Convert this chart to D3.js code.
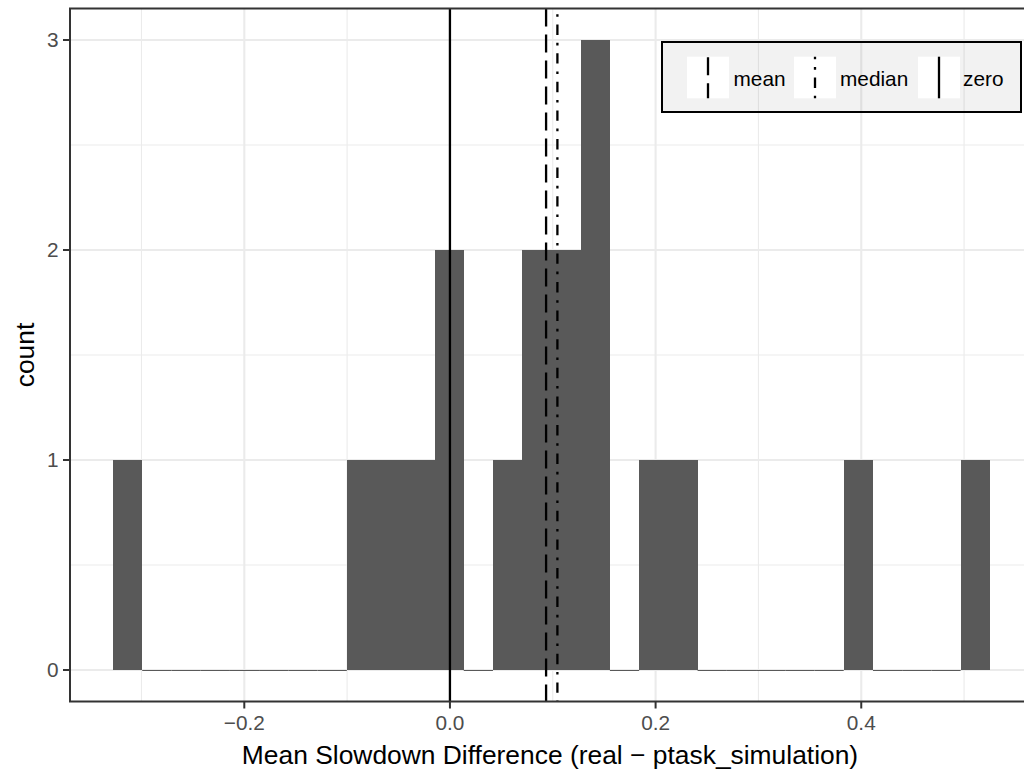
<!DOCTYPE html>
<html>
<head>
<meta charset="utf-8">
<script src="https://cdn.jsdelivr.net/npm/d3@7"></script>
<style>
  html, body { margin: 0; padding: 0; background: #fff; }
  svg { display: block; font-family: "Liberation Sans", Arial, sans-serif; }
</style>
</head>
<body>
<svg id="chart" width="1024" height="769"></svg>
<script>
// ---- data ----
const binStart = -0.3277;          // left edge of first bin
const binWidth = 0.028427;         // histogram bin width
const counts = [1,0,0,0,0,0,0,0,1,1,1,2,0,1,2,2,3,0,1,1,0,0,0,0,0,1,0,0,0,1];
const refLabels = ["mean", "median", "zero"];
const refValues = [0.0935, 0.1045, 0];
const xTicks = [-0.2, 0.0, 0.2, 0.4];
const xMinor = [-0.3, -0.1, 0.1, 0.3, 0.5];
const yTicks = [0, 1, 2, 3];
const yMinor = [0.5, 1.5, 2.5];
const xTitle = "Mean Slowdown Difference (real \u2212 ptask_simulation)";
const yTitle = "count";

const bins = counts.map((c, i) => ({ x0: binStart + i * binWidth, x1: binStart + (i + 1) * binWidth, count: c }));

// ---- layout ----
const panel = { left: 70, right: 1034, top: 8.5, bottom: 701.5 };
const x = d3.scaleLinear().domain([-0.3695, 0.5680]).range([panel.left, panel.right]);
const y = d3.scaleLinear().domain([-0.15, 3.15]).range([panel.bottom, panel.top]);

const svg = d3.select("#chart");
const fmtX = v => (v < 0 ? "\u2212" : "") + Math.abs(v).toFixed(1);

// grid
const g = svg.append("g");
g.selectAll(".xminor").data(xMinor).join("line")
  .attr("x1", d => x(d)).attr("x2", d => x(d)).attr("y1", panel.top).attr("y2", panel.bottom)
  .attr("stroke", "#ebebeb").attr("stroke-width", 1.1);
g.selectAll(".yminor").data(yMinor).join("line")
  .attr("y1", d => y(d)).attr("y2", d => y(d)).attr("x1", panel.left).attr("x2", panel.right)
  .attr("stroke", "#ebebeb").attr("stroke-width", 1.1);
g.selectAll(".xmajor").data(xTicks).join("line")
  .attr("x1", d => x(d)).attr("x2", d => x(d)).attr("y1", panel.top).attr("y2", panel.bottom)
  .attr("stroke", "#ebebeb").attr("stroke-width", 2.1);
g.selectAll(".ymajor").data(yTicks).join("line")
  .attr("y1", d => y(d)).attr("y2", d => y(d)).attr("x1", panel.left).attr("x2", panel.right)
  .attr("stroke", "#ebebeb").attr("stroke-width", 2.1);

// bars
svg.append("g").selectAll("rect").data(bins.filter(b => b.count > 0)).join("rect")
  .attr("x", d => x(d.x0)).attr("width", d => x(d.x1) - x(d.x0))
  .attr("y", d => y(d.count)).attr("height", d => y(0) - y(d.count))
  .attr("fill", "#595959").attr("shape-rendering", "crispEdges");
svg.append("g").selectAll("line").data(bins.filter(b => b.count === 0)).join("line")
  .attr("x1", d => x(d.x0)).attr("x2", d => x(d.x1))
  .attr("y1", y(0) + 0.5).attr("y2", y(0) + 0.5)
  .attr("stroke", "#595959").attr("stroke-width", 1);

// reference lines
const dashes = ["18,8", "2.6,7.8,10.4,7.8", null];
const offsets = [0, 22.9, 0];
svg.append("g").selectAll("line").data(refValues).join("line")
  .attr("x1", d => x(d)).attr("x2", d => x(d)).attr("y1", panel.top).attr("y2", panel.bottom)
  .attr("stroke", "#000").attr("stroke-width", 2.3)
  .attr("stroke-dasharray", (d, i) => dashes[i])
  .attr("stroke-dashoffset", (d, i) => offsets[i]);

// panel border
svg.append("rect").attr("x", panel.left).attr("y", panel.top)
  .attr("width", panel.right - panel.left).attr("height", panel.bottom - panel.top)
  .attr("fill", "none").attr("stroke", "#333333").attr("stroke-width", 2);

// axes ticks
svg.append("g").selectAll("line").data(xTicks).join("line")
  .attr("x1", d => x(d)).attr("x2", d => x(d)).attr("y1", panel.bottom).attr("y2", panel.bottom + 7)
  .attr("stroke", "#333333").attr("stroke-width", 2);
svg.append("g").selectAll("line").data(yTicks).join("line")
  .attr("y1", d => y(d)).attr("y2", d => y(d)).attr("x1", panel.left - 7).attr("x2", panel.left)
  .attr("stroke", "#333333").attr("stroke-width", 2);

svg.append("g").selectAll("text").data(xTicks).join("text")
  .attr("x", d => x(d)).attr("y", 730).attr("text-anchor", "middle")
  .attr("font-size", 20.8).attr("fill", "#4d4d4d").text(fmtX);
svg.append("g").selectAll("text").data(yTicks).join("text")
  .attr("x", 58.5).attr("y", d => y(d) + 7.4).attr("text-anchor", "end")
  .attr("font-size", 20.8).attr("fill", "#4d4d4d").text(d => d);

// axis titles
svg.append("text").attr("x", 550).attr("y", 764)
  .attr("text-anchor", "middle").attr("font-size", 26.4).attr("fill", "#000").text(xTitle);
svg.append("text").attr("transform", `translate(33.5,${(panel.top + panel.bottom) / 2}) rotate(-90)`)
  .attr("text-anchor", "middle").attr("font-size", 26.4).attr("fill", "#000").text(yTitle);

// legend
const leg = svg.append("g");
leg.append("rect").attr("x", 662).attr("y", 42).attr("width", 359).attr("height", 70)
  .attr("fill", "rgba(0,0,0,0.05)").attr("stroke", "#000").attr("stroke-width", 2);
const keyX = [687, 794, 918];
const textX = [733.5, 840, 963];
const keyDashes = ["18,8", "2.6,7.8,10.4,7.8", null];
const keyOff = [3, 0, 0];
refLabels.forEach((lab, i) => {
  leg.append("rect").attr("x", keyX[i]).attr("y", 56.7).attr("width", 42).attr("height", 41.6).attr("fill", "#fff");
  leg.append("line").attr("x1", keyX[i] + 21).attr("x2", keyX[i] + 21)
    .attr("y1", 98.3).attr("y2", 56.7)
    .attr("stroke", "#000").attr("stroke-width", 2.3)
    .attr("stroke-dasharray", keyDashes[i]).attr("stroke-dashoffset", keyOff[i]);
  leg.append("text").attr("x", textX[i]).attr("y", 85.7).attr("font-size", 20.8).attr("fill", "#000").text(lab);
});
</script>
</body>
</html>
